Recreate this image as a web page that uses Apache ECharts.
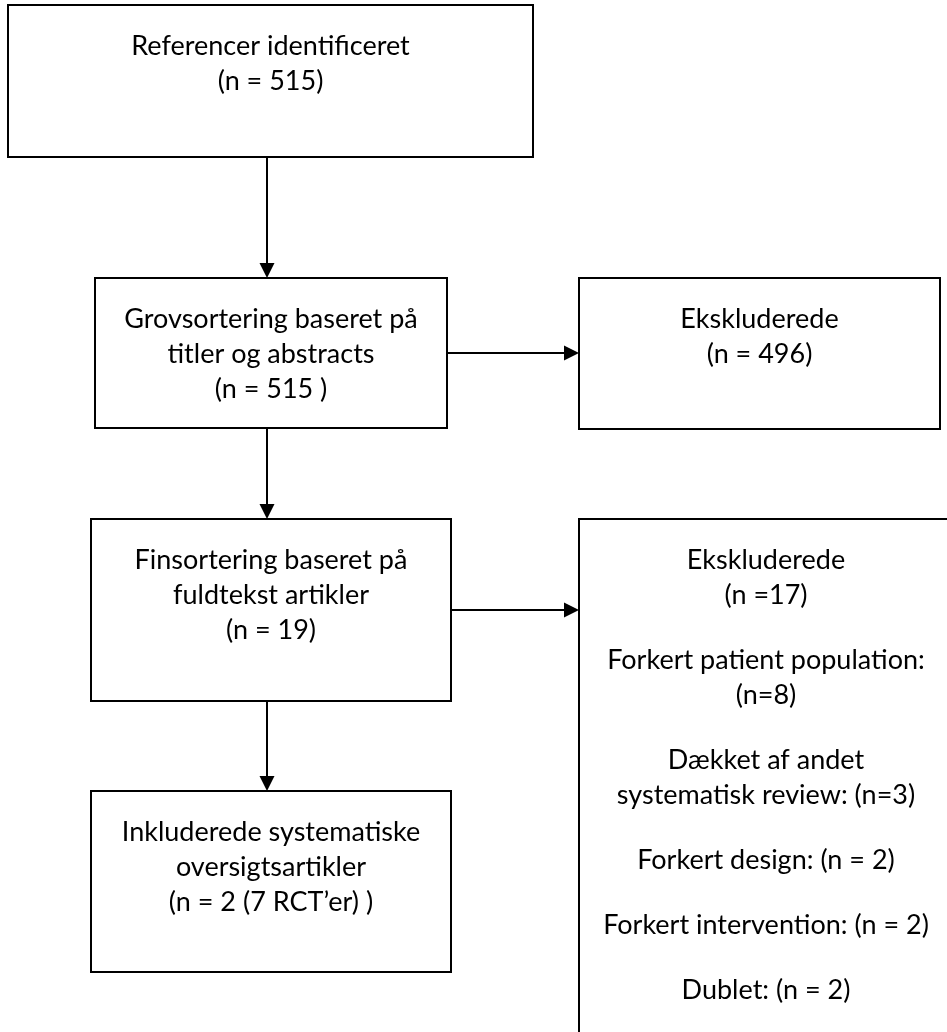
<!DOCTYPE html>
<html>
<head>
<meta charset="utf-8">
<script src="https://cdn.jsdelivr.net/npm/echarts@6/dist/echarts.min.js"></script>
<style>
  html, body { margin: 0; padding: 0; background: #fff; }
  #main { width: 947px; height: 1032px; }
</style>
</head>
<body>
<div id="main"></div>
<script>
// flowchart content
const stageLabels = ['Referencer identificeret', 'Grovsortering baseret på\ntitler og abstracts', 'Finsortering baseret på\nfuldtekst artikler', 'Inkluderede systematiske\noversigtsartikler'];
const stageCounts = ['(n = 515)', '(n = 515 )', '(n = 19)', '(n = 2 (7 RCT’er) )'];
const excludedTitle = 'Ekskluderede';
const excludedCounts = ['(n = 496)', '(n =17)'];
const exclusionReasons = ['Forkert patient population:\n(n=8)', 'Dækket af andet\nsystematisk review: (n=3)', 'Forkert design: (n = 2)', 'Forkert intervention: (n = 2)', 'Dublet: (n = 2)'];

// layout (pixel boxes: x1, y1, x2, y2)
const stageBoxes = [[8, 5, 533, 157], [95, 278, 447, 428], [91, 519, 451, 701], [91, 791, 451, 972]];
const excludedBoxes = [[579, 278, 940, 429], [579, 519, 953, 1060]];
const arrowRows = [353, 610]; // horizontal arrows from stage 1 and 2
const ARROW_X = 267;

const FONT = '27px Lato';
const LH = 35;
const PARA = 65;
const TOP_OFF = 41;

let myChart = echarts.init(document.getElementById('main'));
let elements = [];

function box(b) {
  elements.push({
    type: 'rect',
    shape: { x: b[0], y: b[1], width: b[2] - b[0], height: b[3] - b[1] },
    style: { fill: '#fff', stroke: '#000', lineWidth: 2 }
  });
}
function text(str, cx, cy) {
  elements.push({
    type: 'text',
    style: { text: str, x: cx, y: cy - LH / 2, align: 'center', verticalAlign: 'top',
      font: FONT, lineHeight: LH, fill: '#000' }
  });
}
function arrowDown(x, y1, y2) {
  elements.push({ type: 'line', shape: { x1: x, y1: y1, x2: x, y2: y2 - 12 }, style: { stroke: '#000', lineWidth: 2 } });
  elements.push({ type: 'polygon', shape: { points: [[x - 7.5, y2 - 15], [x + 7.5, y2 - 15], [x, y2]] }, style: { fill: '#000' } });
}
function arrowRight(y, x1, x2) {
  elements.push({ type: 'line', shape: { x1: x1, y1: y, x2: x2 - 12, y2: y }, style: { stroke: '#000', lineWidth: 2 } });
  elements.push({ type: 'polygon', shape: { points: [[x2 - 15, y - 7.5], [x2 - 15, y + 7.5], [x2, y]] }, style: { fill: '#000' } });
}

stageBoxes.forEach((b, i) => {
  box(b);
  const cx = (b[0] + b[2]) / 2;
  text(stageLabels[i] + '\n' + stageCounts[i], cx, b[1] + TOP_OFF);
  if (i < stageBoxes.length - 1) arrowDown(ARROW_X, b[3], stageBoxes[i + 1][1]);
});

excludedBoxes.forEach((b, i) => {
  box(b);
  const cx = (b[0] + b[2]) / 2;
  let y = b[1] + TOP_OFF;
  text(excludedTitle + '\n' + excludedCounts[i], cx, y);
  const src = stageBoxes[i + 1];
  arrowRight(arrowRows[i], src[2], b[0]);
  if (i === 1) {
    y += LH + PARA;
    exclusionReasons.forEach(r => {
      text(r, cx, y);
      y += (r.split('\n').length - 1) * LH + PARA;
    });
  }
});

myChart.setOption({
  backgroundColor: '#fff',
  graphic: { elements: elements }
});
</script>
</body>
</html>
